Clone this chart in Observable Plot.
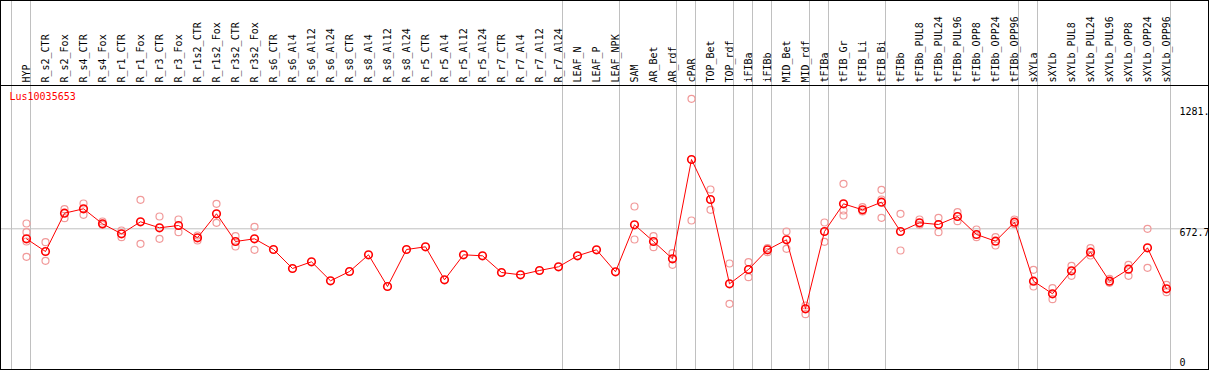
<!DOCTYPE html>
<html>
<head>
<meta charset="utf-8">
<script src="https://cdn.jsdelivr.net/npm/d3@7"></script>
<script src="https://cdn.jsdelivr.net/npm/@observablehq/plot@0.6"></script>
<style>
  html, body { margin: 0; padding: 0; background: white; }
</style>
</head>
<body>
<div id="chart"></div>
<script>
const geneName = "Lus10035653";

const categories = [
  "HYP", "R_s2_CTR", "R_s2_Fox", "R_s4_CTR", "R_s4_Fox", "R_r1_CTR", "R_r1_Fox",
  "R_r3_CTR", "R_r3_Fox", "R_r1s2_CTR", "R_r1s2_Fox", "R_r3s2_CTR", "R_r3s2_Fox",
  "R_s6_CTR", "R_s6_Al4", "R_s6_Al12", "R_s6_Al24", "R_s8_CTR", "R_s8_Al4",
  "R_s8_Al12", "R_s8_Al24", "R_r5_CTR", "R_r5_Al4", "R_r5_Al12", "R_r5_Al24",
  "R_r7_CTR", "R_r7_Al4", "R_r7_Al12", "R_r7_Al24", "LEAF_N", "LEAF_P", "LEAF_NPK",
  "SAM", "AR_Bet", "AR_rdf", "cPAR", "TOP_Bet", "TOP_rdf", "iFIBa", "iFIBb",
  "MID_Bet", "MID_rdf", "tFIBa", "tFIB_Gr", "tFIB_Li", "tFIB_Bi", "tFIBb",
  "tFIBb_PUL8", "tFIBb_PUL24", "tFIBb_PUL96", "tFIBb_OPP8", "tFIBb_OPP24", "tFIBb_OPP96",
  "sXYLa", "sXYLb", "sXYLb_PUL8", "sXYLb_PUL24", "sXYLb_PUL96", "sXYLb_OPP8",
  "sXYLb_OPP24", "sXYLb_OPP96"
];

const means = [
  620.8, 554.9, 753.6, 776.4, 698.6, 646.7, 709.0, 677.9, 689.8, 626.0,
  750.5, 606.8, 620.8, 565.3, 466.8, 501.5, 403.0, 451.2, 537.8, 373.4,
  565.3, 579.3, 408.2, 537.8, 532.6, 446.0, 434.1, 456.4, 475.6, 532.6,
  563.8, 449.7, 693.4, 606.8, 517.1, 1032.1, 824.6, 387.4, 461.6, 563.8,
  615.6, 257.8, 658.7, 802.3, 771.2, 810.6, 658.7, 703.8, 695.0, 736.5,
  643.1, 608.4, 706.9, 400.9, 335.6, 454.8, 551.3, 400.9, 463.1, 574.1,
  361.5
];

const replicates = [
  [700.2, 655.0, 606.8, 527.5], [603.2, 506.7], [774.3, 727.6], [803.9, 745.3],
  [710.5, 693.4], [663.9, 629.1], [823.1, 594.9], [736.5, 620.8], [720.9, 655.0],
  [637.9, 612.0], [802.3, 703.8], [634.3, 580.9], [683.0, 563.8],
  [], [], [], [], [], [], [], [], [], [], [], [], [], [], [], [], [], [], [],
  [788.3, 617.2], [634.3, 577.2], [546.1, 486.0], [1346.9, 715.7], [876.5, 771.2],
  [492.7, 283.7], [499.4, 421.7], [572.1, 551.3], [658.7, 568.9], [274.9, 229.8],
  [705.4, 605.3], [906.1, 767.6, 741.7], [784.7, 762.4], [874.9, 824.6, 729.7],
  [750.5, 560.1], [720.9, 693.4], [729.7, 655.0], [758.8, 712.1], [669.0, 629.1],
  [629.1, 586.1], [720.9, 696.5], [460.0, 373.4], [364.6, 307.6], [480.8, 428.9],
  [572.1, 534.2], [413.4, 392.6], [486.0, 428.9], [672.7, 470.4], [382.2, 343.9]
];

// group separators: a line is drawn just after these category indices
const groupEnds = [-1, 0, 28, 31, 34, 35, 37, 38, 39, 41, 42, 45, 52, 53, 60];

const yTickValues = [0, 672.7, 1281];
const yTickLabels = ["0", "672.7", "1281."];

const meanRows = means.map((v, i) => ({i, v}));
const repRows = replicates.flatMap((arr, i) => arr.map(v => ({i, v})));

const chart = Plot.plot({
  width: 1209,
  height: 370,
  marginTop: 85,
  marginBottom: 1,
  marginLeft: 0,
  marginRight: 1,
  x: {type: "linear", domain: [0, categories.length - 1], range: [26, 1166], axis: null},
  y: {type: "linear", domain: [0, 1281], range: [358, 111], axis: null},
  style: {fontFamily: "'DejaVu Sans Mono', monospace", fontSize: "10px", background: "white", color: "black"},
  marks: [
    Plot.ruleX(groupEnds, {x: d => d, dx: 4, insetTop: -85, stroke: "#c0c0c0", strokeWidth: 1}),
    Plot.ruleY([yTickValues[1]], {stroke: "#c0c0c0", strokeWidth: 1}),
    Plot.frame({insetTop: -85, stroke: "black"}),
    Plot.frame({stroke: "black"}),
    Plot.text(categories, {
      x: (d, i) => i, text: d => d, frameAnchor: "top", rotate: -90,
      textAnchor: "start", lineAnchor: "middle", dy: -3, fill: "black"
    }),
    Plot.dot(repRows, {x: "i", y: "v", r: 3.5, stroke: "#f19a9a", strokeWidth: 1.2, fill: "none"}),
    Plot.line(meanRows, {x: "i", y: "v", stroke: "red", strokeWidth: 1}),
    Plot.dot(meanRows, {x: "i", y: "v", r: 3.8, stroke: "red", strokeWidth: 1.6, fill: "none"}),
    Plot.text([geneName], {
      text: d => d, frameAnchor: "top-left", textAnchor: "start", lineAnchor: "top",
      dx: 9, dy: 7, fill: "red"
    }),
    Plot.text(yTickValues.slice(0, 2), {
      y: d => d, text: (d, i) => yTickLabels[i], frameAnchor: "right",
      textAnchor: "start", lineAnchor: "top", dx: -29, fill: "black"
    }),
    Plot.text(yTickValues.slice(2), {
      y: d => d, text: (d, i) => yTickLabels[i + 2], frameAnchor: "right",
      textAnchor: "start", lineAnchor: "middle", dx: -29, fill: "black"
    })
  ]
});

document.getElementById("chart").appendChild(chart);
</script>
</body>
</html>
